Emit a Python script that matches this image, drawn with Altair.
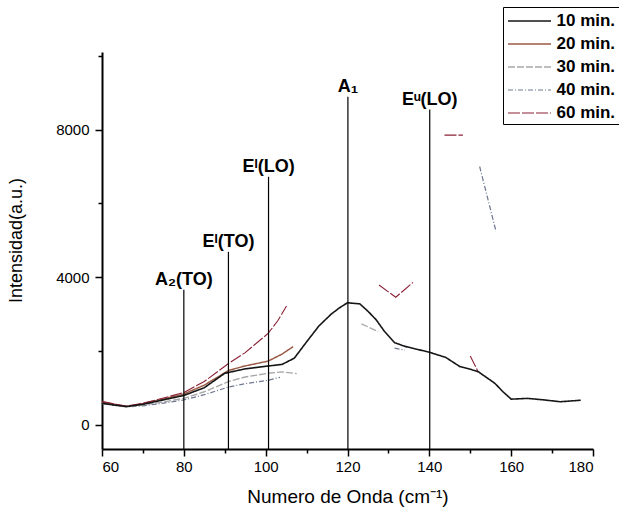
import altair as alt
import pandas as pd

series_names = ["10 min.", "20 min.", "30 min.", "40 min.", "60 min."]
series_colors = ["#161616", "#9a5a45", "#a8a8a8", "#6f7890", "#8a2035"]
series_dashes = [[1, 0], [1, 0], [7, 2], [5, 2, 1, 2], [12, 2]]
series_widths = [1.6, 1.1, 1.1, 1.1, 1.2]

# 10 min. (full spectrum)
wn_10 = [60, 63, 66, 70, 75, 80, 85, 90, 95, 100, 104, 107, 110, 113, 116, 118, 120, 123, 125, 127,
         129, 131.5, 134, 137, 140, 144, 147.5, 150, 152, 156, 158, 160, 164, 168, 172, 177]
int_10 = [590, 540, 500, 560, 680, 800, 1010, 1400, 1520, 1590, 1640, 1810, 2250, 2680, 3000, 3170, 3310, 3280, 3080, 2850,
          2540, 2230, 2130, 2050, 1970, 1830, 1580, 1510, 1440, 1130, 900, 700, 720, 680, 630, 670]

# 20 min.
wn_20 = [60, 63, 66, 70, 75, 80, 85, 91, 95, 100.6, 104, 106.7]
int_20 = [620, 560, 500, 575, 700, 840, 1080, 1480, 1600, 1730, 1920, 2120]

# 30 min.
wn_30 = [60, 63, 66, 70, 75, 80, 85, 91, 95, 100.6, 104, 107.6]
int_30 = [600, 545, 495, 545, 625, 720, 900, 1180, 1300, 1400, 1440, 1390]
wn_30b = [123.4, 127.5]
int_30b = [2740, 2530]

# 40 min.
wn_40 = [60, 63, 66, 70, 75, 80, 85, 91, 95, 100.6, 103.5]
int_40 = [580, 530, 490, 520, 590, 680, 820, 1030, 1120, 1210, 1290]
wn_40b = [131.5, 134]
int_40b = [2080, 2030]
wn_40c = [152.3, 156.3]
int_40c = [7000, 5240]

# 60 min.
wn_60 = [60, 63, 66, 70, 75, 80, 85, 91, 95, 100.6, 103, 105.1]
int_60 = [640, 570, 510, 590, 730, 880, 1180, 1670, 1960, 2480, 2830, 3220]
wn_60b = [127.7, 131.8, 136]
int_60b = [3790, 3460, 3860]
wn_60c = [143.7, 148.2]
int_60c = [7850, 7850]
wn_60d = [150, 151.9]
int_60d = [1870, 1450]

# Peak markers
peak_pos = [80, 90.9, 100.7, 120.1, 140.1]
peak_top = [3660, 4690, 6720, 8890, 8540]
peak_lab = ["A\u2082(TO)", "E\u1d35(TO)", "E\u1d35(LO)", "A\u2081", "E\u1d58(LO)"]

x_ticks = [60, 70, 80, 90, 100, 110, 120, 130, 140, 150, 160, 170, 180]
y_ticks = [0, 2000, 4000, 6000, 8000, 10000]
y_dom = [-650, 10100]
x_dom = [60, 180]

segments = [
    ("40 min.", "40a", wn_40, int_40), ("40 min.", "40b", wn_40b, int_40b), ("40 min.", "40c", wn_40c, int_40c),
    ("30 min.", "30a", wn_30, int_30), ("30 min.", "30b", wn_30b, int_30b),
    ("20 min.", "20a", wn_20, int_20),
    ("60 min.", "60a", wn_60, int_60), ("60 min.", "60b", wn_60b, int_60b),
    ("60 min.", "60c", wn_60c, int_60c), ("60 min.", "60d", wn_60d, int_60d),
    ("10 min.", "10a", wn_10, int_10),
]
rows = []
for s, seg, xs, ys in segments:
    for i, (a, b) in enumerate(zip(xs, ys)):
        rows.append({"series": s, "seg": seg, "idx": i, "wn": a, "inten": b})
df = pd.DataFrame(rows)

peaks = pd.DataFrame({"wn": peak_pos, "inten": peak_top, "lab": peak_lab})

FONT = "Liberation Sans"
XT = "Numero de Onda (cm\u207b\u00b9)"
YT = "Intensidad(a.u.)"

xscale = alt.Scale(domain=x_dom, nice=False, zero=False)
yscale = alt.Scale(domain=y_dom, nice=False, zero=False)

xaxis = alt.Axis(
    values=x_ticks, title=XT, format="d", labelPadding=3, titlePadding=13, titleFontSize=19, tickSize=7,
    labelExpr="datum.value % 20 === 0 ? datum.label : ''",
    tickDash={"condition": {"test": "datum.value % 20 !== 0", "value": [4, 20]}, "value": [20, 0]},
)
yaxis = alt.Axis(
    values=y_ticks, title=YT, format="d", labelPadding=6, titlePadding=30, titleFontSize=18, tickSize=7,
    titleY=188,
    labelExpr="datum.value % 4000 === 0 ? datum.label : ''",
    tickDash={"condition": {"test": "datum.value % 4000 !== 0", "value": [4, 20]}, "value": [20, 0]},
)

legend = alt.Legend(
    orient="none", legendX=401, legendY=-45, title=None,
    labelFontSize=17, labelFontWeight="bold", labelFont=FONT, labelColor="black",
    symbolType="M-2.15,0H2.15", symbolSize=400, symbolStrokeWidth=1.4, symbolOffset=12.5,
    strokeColor="black", fillColor="white", padding=3, rowPadding=4, labelOffset=16,
)

lines = alt.Chart(df).mark_line().encode(
    x=alt.X("wn:Q", scale=xscale, axis=xaxis),
    y=alt.Y("inten:Q", scale=yscale, axis=yaxis),
    color=alt.Color("series:N", scale=alt.Scale(domain=series_names, range=series_colors), legend=legend),
    strokeDash=alt.StrokeDash("series:N", scale=alt.Scale(domain=series_names, range=series_dashes), legend=legend),
    strokeWidth=alt.StrokeWidth("series:N", scale=alt.Scale(domain=series_names, range=series_widths), legend=None),
    detail="seg:N",
    order="idx:Q",
)

rules = alt.Chart(peaks).mark_rule(color="black", strokeWidth=1.2).encode(
    x=alt.X("wn:Q", scale=xscale, axis=xaxis),
    y=alt.Y("inten:Q", scale=yscale, axis=yaxis),
    y2=alt.datum(y_dom[0]),
)

texts = alt.Chart(peaks).mark_text(
    font=FONT, fontSize=18, fontWeight="bold", color="black", baseline="alphabetic", dy=-5, align="center"
).encode(
    x=alt.X("wn:Q", scale=xscale, axis=xaxis),
    y=alt.Y("inten:Q", scale=yscale, axis=yaxis),
    text="lab:N",
)

chart = alt.layer(lines, rules, texts).properties(
    width=491, height=397,
    padding={"left": 102, "top": 52, "right": 26, "bottom": 62},
    autosize=alt.AutoSizeParams(type="none"),
    background="white",
).configure_view(stroke=None).configure_axis(
    domainColor="black", domainWidth=2, tickColor="black", tickWidth=1.5,
    labelFont=FONT, labelFontSize=15, labelColor="black", titleFont=FONT, titleColor="black",
    titleFontWeight="normal", grid=False,
)

chart.save("out.html", embed_options={"renderer": "svg", "actions": False})
